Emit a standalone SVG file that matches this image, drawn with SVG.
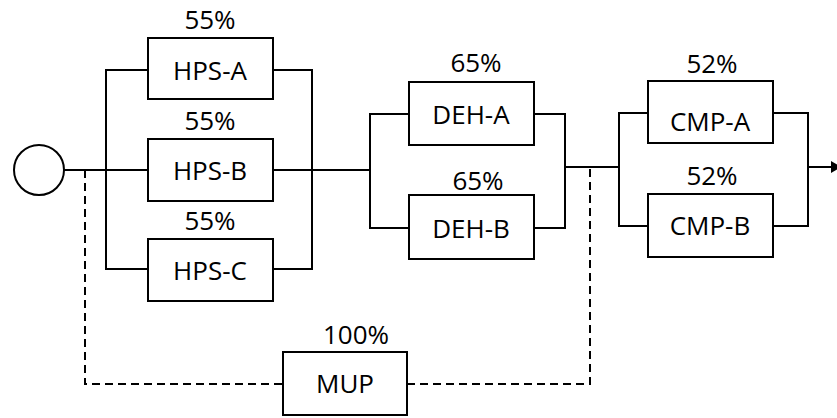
<svg xmlns="http://www.w3.org/2000/svg" width="837" height="418" viewBox="0 0 837 418">
  <style>
    .box { fill: #ffffff; stroke: #000000; stroke-width: 2; }
    .wire { fill: none; stroke: #000000; stroke-width: 2; }
    .dash { fill: none; stroke: #000000; stroke-width: 2; stroke-dasharray: 8 5; }
    text { font-family: "Open Sans", "Noto Sans", sans-serif; font-size: 26px; fill: #000000; text-anchor: middle; }
  </style>
  <defs>
    <marker id="arrow" viewBox="0 0 10 12" refX="0" refY="6" markerWidth="10" markerHeight="12" orient="auto" markerUnits="userSpaceOnUse">
      <path d="M0,0 L10,6 L0,12 z" fill="#000000"/>
    </marker>
  </defs>
  <rect width="837" height="418" fill="#ffffff"/>

  <!-- connectors -->
  <g id="connectors">
    <!-- source to HPS stage -->
    <path class="wire" d="M64,170 H148"/>
    <path class="wire" d="M148,70 H106 V269 H148"/>
    <path class="wire" d="M273,70 H312 V269 H273"/>
    <path class="wire" d="M273,170 H370"/>
    <!-- DEH stage -->
    <path class="wire" d="M409,114 H370 V228 H409"/>
    <path class="wire" d="M534,114 H565 V228 H534"/>
    <path class="wire" d="M565,167 H619"/>
    <!-- CMP stage -->
    <path class="wire" d="M648,113 H619 V226 H648"/>
    <path class="wire" d="M773,113 H808 V226 H773"/>
    <path class="wire" d="M808,167 H831" marker-end="url(#arrow)"/>
    <!-- MUP bypass -->
    <path class="dash" d="M85,170 V384 H283"/>
    <path class="dash" d="M407,384 H590 V167"/>
  </g>

  <g id="source">
    <circle cx="39" cy="170" r="25" class="wire"/>
  </g>

  <g id="hps-a">
    <text x="210" y="29">55%</text>
    <rect class="box" x="148" y="38" width="125" height="61"/>
    <text x="210" y="80">HPS-A</text>
  </g>
  <g id="hps-b">
    <text x="210" y="130">55%</text>
    <rect class="box" x="148" y="139" width="125" height="62"/>
    <text x="210" y="180">HPS-B</text>
  </g>
  <g id="hps-c">
    <text x="210" y="230">55%</text>
    <rect class="box" x="148" y="239" width="125" height="62"/>
    <text x="210" y="280">HPS-C</text>
  </g>

  <g id="deh-a">
    <text x="476" y="72">65%</text>
    <rect class="box" x="409" y="82" width="125" height="63"/>
    <text x="471" y="124">DEH-A</text>
  </g>
  <g id="deh-b">
    <text x="478" y="190">65%</text>
    <rect class="box" x="409" y="195" width="125" height="64"/>
    <text x="471" y="238">DEH-B</text>
  </g>

  <g id="cmp-a">
    <text x="712" y="73">52%</text>
    <rect class="box" x="648" y="81" width="125" height="62"/>
    <text x="710" y="131">CMP-A</text>
  </g>
  <g id="cmp-b">
    <text x="712" y="185">52%</text>
    <rect class="box" x="648" y="194" width="125" height="63"/>
    <text x="710" y="235">CMP-B</text>
  </g>

  <g id="mup">
    <text x="356" y="344">100%</text>
    <rect class="box" x="283" y="352" width="124" height="63"/>
    <text x="345" y="393">MUP</text>
  </g>
</svg>
